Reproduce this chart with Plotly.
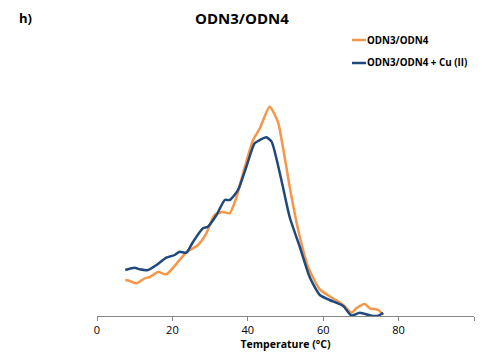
import plotly.graph_objects as go

# Data (temperature in °C, signal in arbitrary units)
temp_orange = [7.5, 8.7, 10.4, 12.7, 14.0, 16.2, 18.4, 21.9, 23.7, 26.8, 29.0, 31.2, 33.4, 35.2,
               37.0, 39.2, 41.4, 43.2, 45.8, 48.0, 49.3, 51.6, 53.8, 56.0, 59.1, 62.6, 65.3,
               67.5, 68.8, 71.0, 72.4, 74.6, 75.9]
sig_orange = [36, 35, 32.7, 37.7, 39, 44, 41.7, 56, 63.7, 71, 82.7, 101, 104, 102.7,
              119, 149, 176, 187.7, 209.3, 194, 169, 119, 79, 49, 26.7, 17.7, 11,
              3.3, 7.7, 12, 7.7, 6, 1]

temp_blue = [7.5, 10.0, 11.3, 13.5, 15.8, 18.4, 20.6, 21.9, 23.7, 25.5, 28.1, 29.4, 31.7, 33.9,
             35.2, 37.4, 39.6, 41.8, 43.2, 44.9, 46.3, 48.9, 51.1, 53.8, 56.4, 59.1, 61.7,
             65.3, 67.5, 69.7, 72.8, 74.6, 75.9]
sig_blue = [46, 48.3, 46.7, 46, 51, 58.3, 61, 64.3, 63.3, 74.3, 87.7, 89.3, 101, 116,
            116, 126, 149, 172.7, 176, 178.7, 174.3, 136, 99, 69, 39, 21, 16,
            10, 0.5, 3.3, 0.3, 0.3, 3.3]

x_ticks = [0, 20, 40, 60, 80, 100]
series_names = ["ODN3/ODN4", "ODN3/ODN4 + Cu (II)"]
colors = ["#F79646", "#1F497D"]

W, H = 482, 362
L, R, T, B = 97, 8, 80, 46
pw, ph = W - L - R, H - T - B

def px_x(x):
    return (x - L) / pw

def px_y(y):
    return (H - B - y) / ph

fig = go.Figure()
fig.add_trace(go.Scatter(x=temp_orange, y=sig_orange, mode="lines", name=series_names[0],
                         line=dict(color=colors[0], width=2.5, shape="spline", smoothing=0.6),
                         showlegend=False))
fig.add_trace(go.Scatter(x=temp_blue, y=sig_blue, mode="lines", name=series_names[1],
                         line=dict(color=colors[1], width=2.5, shape="spline", smoothing=0.6),
                         showlegend=False))

font = "Open Sans, Liberation Sans, sans-serif"

annotations = [
    dict(text="<b>h)</b>", x=px_x(17), y=px_y(18), xref="paper", yref="paper",
         xanchor="left", yanchor="middle", showarrow=False, font=dict(size=13, color="#000", family=font)),
    dict(text="<b>ODN3/ODN4</b>", x=px_x(242), y=px_y(18), xref="paper", yref="paper",
         xanchor="center", yanchor="middle", showarrow=False, font=dict(size=15, color="#000", family=font)),
]
shapes = []
for i, (name, c) in enumerate(zip(series_names, colors)):
    yy = 40 + i * 23
    shapes.append(dict(type="line", xref="paper", yref="paper", x0=px_x(352), x1=px_x(366),
                       y0=px_y(yy), y1=px_y(yy), line=dict(color=c, width=2.5)))
    annotations.append(dict(text="<b>" + name + "</b>", x=px_x(365), y=px_y(yy), xref="paper", yref="paper",
                            xanchor="left", yanchor="middle", showarrow=False,
                            font=dict(size=9.8, color="#000", family=font)))

fig.update_layout(
    width=W, height=H,
    margin=dict(l=L, r=R, t=T, b=B),
    paper_bgcolor="white", plot_bgcolor="white",
    font=dict(family=font, color="#000"),
    annotations=annotations, shapes=shapes,
    xaxis=dict(range=[0, 100], tickvals=x_ticks, ticks="outside", ticklen=4, tickcolor="#868686",
               showline=True, linecolor="#868686", linewidth=1, showgrid=False, zeroline=False,
               tickfont=dict(size=11, color="#000", family=font),
               title=dict(text="<b>Temperature (°C)</b>", font=dict(size=10.5, color="#000", family=font),
                          standoff=4)),
    yaxis=dict(range=[0, ph], visible=False, showgrid=False, zeroline=False),
)

fig.write_html("out.html")
